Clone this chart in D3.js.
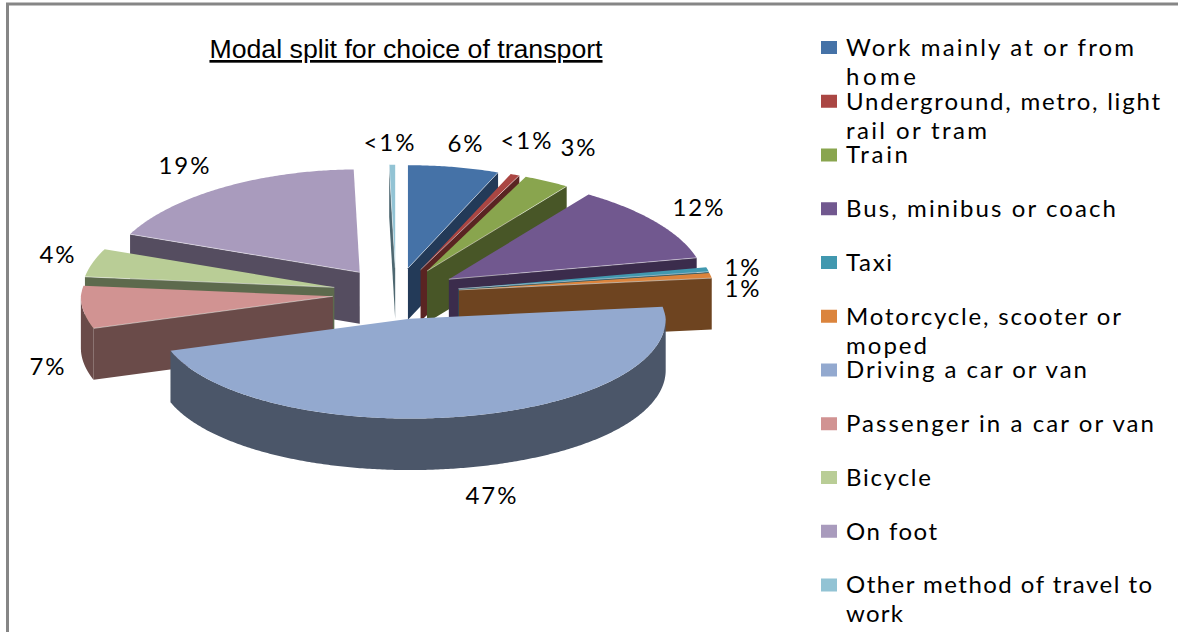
<!DOCTYPE html>
<html>
<head>
<meta charset="utf-8">
<script src="https://cdn.jsdelivr.net/npm/d3@7"></script>
<style>
    html, body { margin: 0; padding: 0; background: #fff; overflow: hidden; }
    svg { display: block; }
    .title { font-family: "Liberation Sans", Arial, sans-serif; font-size: 26.7px; text-decoration: underline; fill: #000; }
    .legend, .pct { font-family: Lato, sans-serif; font-size: 24px; letter-spacing: 2px; fill: #000; }
</style>
</head>
<body>
<svg id="chart" width="1178" height="632"></svg>
<script>
const categories = [
    'Work mainly at or from home',
    'Underground, metro, light rail or tram',
    'Train',
    'Bus, minibus or coach',
    'Taxi',
    'Motorcycle, scooter or moped',
    'Driving a car or van',
    'Passenger in a car or van',
    'Bicycle',
    'On foot',
    'Other method of travel to work'
];
const shares = [6, 0.6, 3, 12, 0.7, 0.8, 46.6, 6.7, 4.4, 18.5, 0.4];
const pctLabels = ['6%', '<1%', '3%', '12%', '1%', '1%', '47%', '7%', '4%', '19%', '<1%'];
const legendLines = [
    ['Work mainly at or from', 'home'],
    ['Underground, metro, light', 'rail or tram'],
    ['Train'],
    ['Bus, minibus or coach'],
    ['Taxi'],
    ['Motorcycle, scooter or', 'moped'],
    ['Driving a car or van'],
    ['Passenger in a car or van'],
    ['Bicycle'],
    ['On foot'],
    ['Other method of travel to', 'work']
];
// pixel width of each legend line in the reference
const legendWidths = [[290, 72], [316, 143], [64], [272], [48], [277, 83], [243], [310], [87], [93], [308, 59]];

const topColors = ['#4572a7', '#aa4643', '#89a54e', '#71588f', '#4198af', '#db843d', '#93a9cf', '#d19392', '#b9cd96', '#a99bbd', '#92c3d4'];
const wallColors = ['#233a58', '#5a2422', '#485627', '#3b2c4c', '#245462', '#6e4420', '#4b5669', '#6a4b49', '#5d6a4d', '#554d60', '#4e6871'];
// label anchor points, same order as the slices
const labelX = [466, 527, 579, 699, 743, 743, 492, 48, 58, 185, 390];
const labelY = [144, 141, 148, 208, 268, 289, 496, 367, 255, 166, 143];

const svg = d3.select('#chart');

// frame around the chart
svg.append('path')
    .attr('d', 'M7.5,632V4H1178')
    .attr('fill', 'none')
    .attr('stroke', '#868686')
    .attr('stroke-width', 3);

svg.append('text')
    .attr('class', 'title')
    .attr('x', 406)
    .attr('y', 58)
    .attr('text-anchor', 'middle')
    .text('Modal split for choice of transport');

// pie is squashed into an ellipse, every slice pulled out along its bisector
const cx = 396, cy = 293.5;
const rx = 254, ry = 103;
const depth = 51.5;
const explode = 0.25;
const farNarrow = 0.05;  // far side of the pie is a bit narrower
const nearFlat = 0.03;   // near side a bit flatter
const rimShift = 2;

const slices = d3.pie().sort(null).value(d => d)(shares)
    .map((s, i) => ({ ...s, i, mid: (s.startAngle + s.endAngle) / 2 }));

const apexX = d => cx + explode * rx * Math.sin(d.mid);
const apexY = d => cy - explode * ry * Math.cos(d.mid);
const rimX = (d, a) => apexX(d) + rimShift * Math.abs(Math.sin(a)) + rx * Math.sin(a) * (1 - farNarrow * Math.max(Math.cos(a), 0));
const rimY = (d, a) => apexY(d) - ry * Math.cos(a) * (1 - nearFlat * Math.max(-Math.cos(a), 0));

function arcAngles(from, to) {
    return d3.range(from, to, 0.01).concat([to]);
}

function topFace(d) {
    const pts = arcAngles(d.startAngle, d.endAngle).map(a => [rimX(d, a), rimY(d, a)]);
    return d3.line()([[apexX(d), apexY(d)], ...pts]) + 'Z';
}

// walls that face the viewer
function sideFace(d, a) {
    const ax = apexX(d), ay = apexY(d);
    const bx = rimX(d, a), by = rimY(d, a);
    return d3.line()([[ax, ay], [bx, by], [bx, by + depth], [ax, ay + depth]]) + 'Z';
}

function rimWall(d) {
    const from = Math.max(d.startAngle, Math.PI / 2);
    const to = Math.min(d.endAngle, Math.PI * 1.5);
    if (from >= to) return null;
    return d3.area()
        .x(a => rimX(d, a))
        .y0(a => rimY(d, a))
        .y1(a => rimY(d, a) + depth)(arcAngles(from, to));
}

// back to front: right side, then left side, the big slice last
const drawOrder = [0, 1, 2, 3, 4, 5, 10, 9, 8, 7, 6];

drawOrder.forEach(i => {
    const d = slices[i];
    const g = svg.append('g');
    const wall = wallColors[i];
    const cuts = [];
    if (Math.sin(d.endAngle) > 0) cuts.push(d.endAngle);
    if (Math.sin(d.startAngle) < 0) cuts.push(d.startAngle);
    cuts.forEach(a => {
        g.append('path').attr('d', sideFace(d, a)).attr('fill', wall);
    });
    const rim = rimWall(d);
    if (rim) g.append('path').attr('d', rim).attr('fill', wall);
    g.append('path')
        .attr('d', topFace(d))
        .attr('fill', topColors[i]);
    // thin pale highlight where the top meets the cut face
    cuts.forEach(a => {
        g.append('path')
            .attr('d', d3.line()([[apexX(d), apexY(d)], [rimX(d, a), rimY(d, a)]]))
            .attr('stroke', '#fff')
            .attr('stroke-opacity', 0.6)
            .attr('stroke-width', 0.8);
    });
});

svg.selectAll('.pct')
    .data(pctLabels)
    .join('text')
    .attr('class', 'pct')
    .attr('x', (d, i) => labelX[i])
    .attr('y', (d, i) => labelY[i])
    .attr('dy', '0.35em')
    .attr('text-anchor', 'middle')
    .text(d => d);

// legend
const legendY = d3.scaleLinear().domain([0, categories.length - 1]).range([47.5, 585]);
const legend = svg.selectAll('.legend-row')
    .data(categories)
    .join('g')
    .attr('class', 'legend-row')
    .attr('transform', (d, i) => `translate(821,${legendY(i)})`);

legend.append('rect')
    .attr('y', -6.5)
    .attr('width', 16)
    .attr('height', 13)
    .attr('fill', (d, i) => topColors[i]);

legend.each(function (d, i) {
    d3.select(this).selectAll('text')
        .data(legendLines[i])
        .join('text')
        .attr('class', 'legend')
        .attr('x', 25)
        .attr('y', (line, j) => j * 29)
        .attr('dy', '0.35em')
        .attr('textLength', (line, j) => legendWidths[i][j])
        .attr('lengthAdjust', 'spacing')
        .text(line => line);
});
</script>
</body>
</html>
